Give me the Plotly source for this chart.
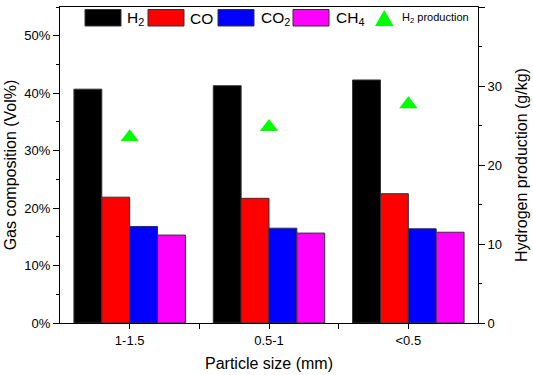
import plotly.graph_objects as go

categories = ["1-1.5", "0.5-1", "<0.5"]
h2 = [40.7, 41.3, 42.3]
co = [21.9, 21.7, 22.5]
co2 = [16.8, 16.5, 16.4]
ch4 = [15.3, 15.65, 15.8]
h2_production = [23.5, 24.8, 27.7]
left_ticks = [0, 10, 20, 30, 40, 50]
right_ticks = [0, 10, 20, 30, 40]

xpos = list(range(len(categories)))
FONT = "Liberation Sans, Arial, sans-serif"

W, H = 533, 375
L, R, T, B = 60, 55, 7, 52
PW, PH = W - L - R, H - T - B


def px(x):
    return (x - L) / PW


def py(y):
    return (H - B - y) / PH


fig = go.Figure()
series = [("H<sub>2</sub>", h2, "#000000"), ("CO", co, "#FF0000"),
          ("CO<sub>2</sub>", co2, "#0000FF"), ("CH<sub>4</sub>", ch4, "#FF00FF")]
for name, vals, col in series:
    fig.add_trace(go.Bar(x=xpos, y=vals, name=name, marker_color=col,
                         marker_line=dict(color="#333333", width=1),
                         showlegend=False))

fig.add_trace(go.Scatter(x=xpos, y=h2_production, yaxis="y2", mode="markers",
                         name="H<sub>2</sub> production",
                         marker=dict(symbol="triangle-up", size=16, color="#00FF00"),
                         showlegend=False))

# manual legend
shapes = []
annotations = []
leg = [(85, 121, "#000000", 125, "H<sub>2</sub>"),
       (148, 184, "#FF0000", 188, "CO"),
       (218, 254, "#0000FF", 258.5, "CO<sub>2</sub>"),
       (293, 329, "#FF00FF", 333.5, "CH<sub>4</sub>")]
for x0, x1, col, tx, label in leg:
    shapes.append(dict(type="rect", xref="paper", yref="paper",
                       x0=px(x0), x1=px(x1), y0=py(26), y1=py(9.5),
                       fillcolor=col, line=dict(color="#333333", width=1)))
    annotations.append(dict(xref="paper", yref="paper", x=px(tx), y=py(18.5),
                            xanchor="left", yanchor="middle", showarrow=False,
                            text=label, font=dict(size=15.5, color="black", family=FONT)))
# triangle legend symbol
shapes.append(dict(type="path", xref="paper", yref="paper",
                   path=f"M {px(375)} {py(26)} L {px(393.5)} {py(26)} L {px(384.2)} {py(10)} Z",
                   fillcolor="#00FF00", line=dict(width=0)))
annotations.append(dict(xref="paper", yref="paper", x=px(400), y=py(18.5),
                        xanchor="left", yanchor="middle", showarrow=False,
                        text="H<sub>2</sub> production",
                        font=dict(size=11, color="black", family=FONT)))

fig.update_layout(
    width=W, height=H,
    margin=dict(l=L, r=R, t=T, b=B, pad=0, autoexpand=False),
    paper_bgcolor="white", plot_bgcolor="white",
    barmode="group", bargap=0.2, bargroupgap=0,
    font=dict(family=FONT, size=13, color="black"),
    shapes=shapes, annotations=annotations,
    xaxis=dict(range=[-0.5, 2.5], tickvals=xpos, ticktext=categories,
               automargin=False,
               showline=True, linecolor="black", linewidth=1, mirror=True,
               ticks="outside", ticklen=5, tickcolor="black", showgrid=False,
               zeroline=False,
               minor=dict(tickvals=[0.5, 1.5], ticks="outside", ticklen=5,
                          tickcolor="black", showgrid=False),
               title=dict(text="Particle size (mm)", font=dict(size=16), standoff=11)),
    yaxis=dict(range=[0, 55], tickvals=left_ticks,
               ticktext=[f"{v}%" for v in left_ticks], automargin=False,
               showline=True, linecolor="black", linewidth=1,
               ticks="outside", ticklen=6, tickcolor="black", showgrid=False,
               zeroline=False,
               minor=dict(dtick=5, ticks="outside", ticklen=3, tickcolor="black",
                          showgrid=False),
               title=dict(text="Gas composition (Vol%)", font=dict(size=16), standoff=3)),
    yaxis2=dict(range=[0, 40], tickvals=right_ticks, overlaying="y",
                automargin=False,
                side="right", showline=True, linecolor="black", linewidth=1,
                ticks="outside", ticklen=6, tickcolor="black", showgrid=False,
                zeroline=False,
                minor=dict(dtick=5, ticks="outside", ticklen=3, tickcolor="black",
                           showgrid=False),
                title=dict(text="Hydrogen production (g/kg)", font=dict(size=16),
                           standoff=14)),
)

fig.write_html("out.html", config={"displayModeBar": False},
               post_script="document.body.style.margin='0';document.body.style.padding='0';")
